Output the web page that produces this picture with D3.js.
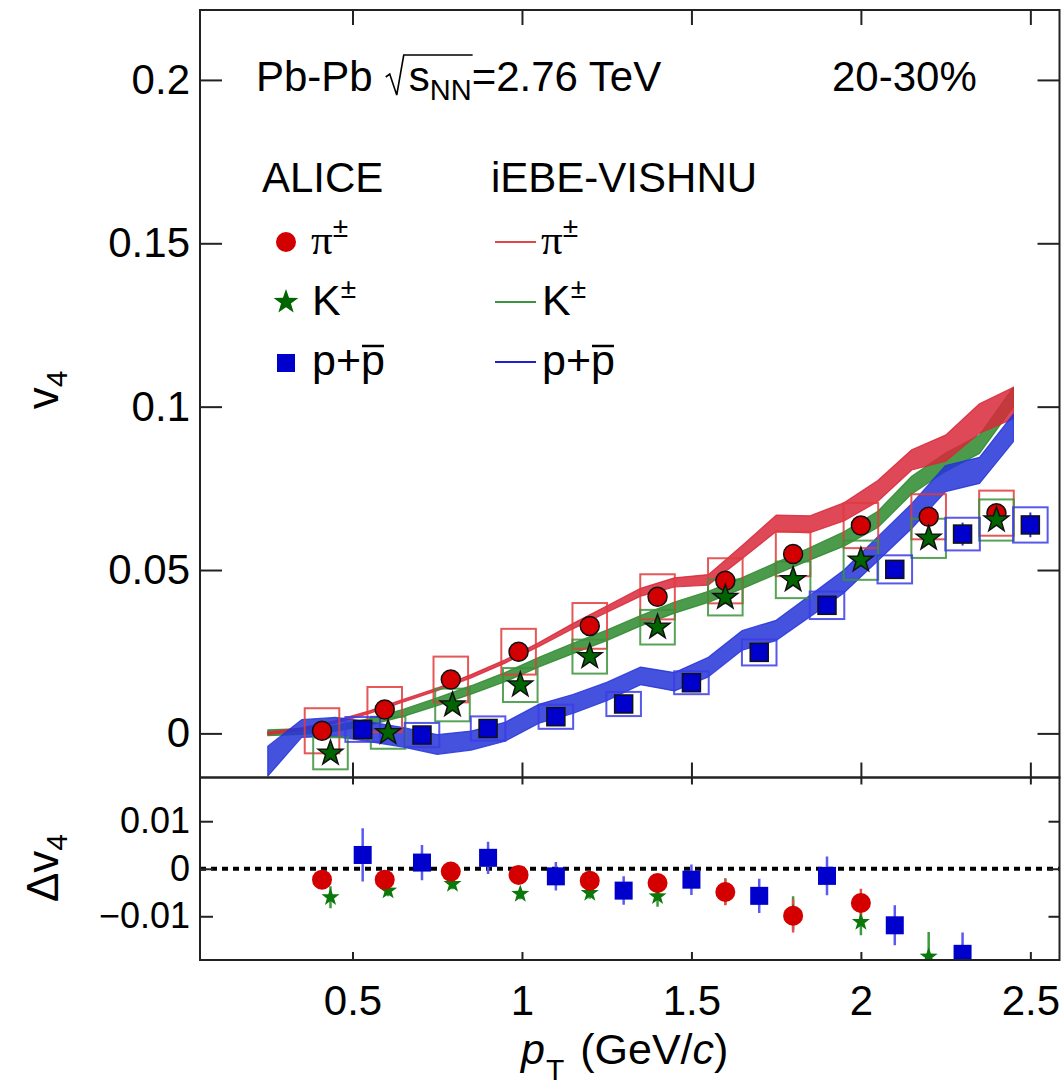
<!DOCTYPE html>
<html>
<head>
<meta charset="utf-8">
<script src="https://d3js.org/d3.v7.min.js"></script>
<style>
  html, body { margin: 0; padding: 0; background: #fff; }
  svg { display: block; font-family: "Liberation Sans", Arial, Helvetica, sans-serif; }
</style>
</head>
<body>
<svg id="chart" width="1061" height="1086"></svg>
<script>
// ---------------- data ----------------
// ALICE measured v4 (Pb-Pb 2.76 TeV, 20-30%)
const pionPt   = [0.41, 0.595, 0.79, 0.99, 1.2, 1.4, 1.6, 1.8, 2.0, 2.2, 2.4];
const pionV4   = [0.0008, 0.0073, 0.0165, 0.0250, 0.0329, 0.0418, 0.0467, 0.0549, 0.0636, 0.0663, 0.0674];
const pionStat = [0.0004, 0.0004, 0.0004, 0.0005, 0.0005, 0.0005, 0.0006, 0.0007, 0.0008, 0.0010, 0.0012];
const pionSys  = [0.0069, 0.0069, 0.0070, 0.0070, 0.0070, 0.0069, 0.0069, 0.0068, 0.0069, 0.0069, 0.0069];

const kaonPt   = [0.435, 0.605, 0.795, 0.995, 1.2, 1.4, 1.6, 1.8, 2.0, 2.2, 2.4];
const kaonV4   = [-0.0061, 0.0002, 0.0087, 0.0148, 0.0235, 0.0325, 0.0416, 0.0470, 0.0530, 0.0597, 0.0653];
const kaonStat = [0.0006, 0.0006, 0.0006, 0.0007, 0.0007, 0.0008, 0.0009, 0.0010, 0.0012, 0.0014, 0.0016];
const kaonSys  = [0.0049, 0.0049, 0.0050, 0.0052, 0.0052, 0.0053, 0.0055, 0.0056, 0.0060, 0.0060, 0.0063];

const protonPt   = [0.53, 0.705, 0.9, 1.1, 1.3, 1.5, 1.7, 1.9, 2.1, 2.3, 2.5];
const protonV4   = [0.0012, -0.0005, 0.0015, 0.0051, 0.0090, 0.0155, 0.0248, 0.0392, 0.0502, 0.0610, 0.0638];
const protonStat = [0.0005, 0.0005, 0.0005, 0.0005, 0.0006, 0.0007, 0.0008, 0.0010, 0.0018, 0.0035, 0.0038];
const protonSys  = [0.0038, 0.0037, 0.0037, 0.0037, 0.0037, 0.0035, 0.0040, 0.0042, 0.0043, 0.0050, 0.0054];

// iEBE-VISHNU hydro calculation (band = centre +- width)
const modelPt    = [0.25, 0.35, 0.45, 0.55, 0.65, 0.75, 0.85, 0.95, 1.05, 1.15, 1.25, 1.35,
                    1.45, 1.55, 1.65, 1.75, 1.85, 1.95, 2.05, 2.15, 2.25, 2.35, 2.45];
const pionBand   = [0.0000, 0.0013, 0.0035, 0.0065, 0.0100, 0.0135, 0.0175, 0.0220, 0.0272, 0.0328, 0.0380, 0.0432,
                    0.0462, 0.0470, 0.0555, 0.0643, 0.0640, 0.0678, 0.0742, 0.0837, 0.0873, 0.0964, 0.1011];
const pionBandW  = [0.0004, 0.0004, 0.0004, 0.0004, 0.0004, 0.0004, 0.0005, 0.0005, 0.0006, 0.0008, 0.0010, 0.0012,
                    0.0014, 0.0016, 0.0020, 0.0025, 0.0026, 0.0028, 0.0032, 0.0031, 0.0040, 0.0045, 0.0048];
const kaonBand   = [0.0002, 0.0006, 0.0016, 0.0035, 0.0063, 0.0097, 0.0133, 0.0172, 0.0218, 0.0260, 0.0300, 0.0345,
                    0.0385, 0.0418, 0.0460, 0.0505, 0.0550, 0.0595, 0.0655, 0.0760, 0.0830, 0.0885, 0.1030];
const kaonBandW  = [0.0009, 0.0009, 0.0009, 0.0010, 0.0011, 0.0012, 0.0013, 0.0014, 0.0015, 0.0016, 0.0016, 0.0016,
                    0.0017, 0.0017, 0.0017, 0.0018, 0.0019, 0.0022, 0.0025, 0.0027, 0.0028, 0.0028, 0.0030];
const protonBand = [-0.0085, 0.0015, 0.0020, 0.0005, -0.0012, -0.0034, -0.0022, 0.0005, 0.0060, 0.0090, 0.0128, 0.0176,
                    0.0158, 0.0203, 0.0285, 0.0315, 0.0390, 0.0465, 0.0565, 0.0665, 0.0780, 0.0805, 0.0935];
const protonBandW= [0.0046, 0.0027, 0.0029, 0.0030, 0.0030, 0.0030, 0.0029, 0.0029, 0.0029, 0.0029, 0.0028, 0.0027,
                    0.0028, 0.0030, 0.0030, 0.0031, 0.0033, 0.0035, 0.0037, 0.0038, 0.0040, 0.0040, 0.0042];

// data - model differences
const dPionPt    = [0.41, 0.595, 0.79, 0.99, 1.2, 1.4, 1.6, 1.8, 2.0];
const dPion      = [-0.0023, -0.0023, -0.0006, -0.0013, -0.0025, -0.0030, -0.0049, -0.0099, -0.0072];
const dPionErr   = [0.0008, 0.0008, 0.0008, 0.0009, 0.0010, 0.0012, 0.0028, 0.0035, 0.0030];
const dKaonPt    = [0.435, 0.605, 0.795, 0.995, 1.2, 1.4, 1.6, 1.8, 2.0, 2.2];
const dKaon      = [-0.0060, -0.0046, -0.0032, -0.0053, -0.0051, -0.0058, -0.0048, -0.0093, -0.0112, -0.0185];
const dKaonErr   = [0.0023, 0.0012, 0.0011, 0.0011, 0.0012, 0.0022, 0.0028, 0.0035, 0.0028, 0.0052];
const dProtonPt  = [0.53, 0.705, 0.9, 1.1, 1.3, 1.5, 1.7, 1.9, 2.1, 2.3];
const dProton    = [0.0029, 0.0013, 0.0023, -0.0016, -0.0046, -0.0023, -0.0057, -0.0015, -0.0119, -0.0179];
const dProtonErr = [0.0056, 0.0037, 0.0034, 0.0030, 0.0030, 0.0032, 0.0036, 0.0041, 0.0042, 0.0045];

// axis ticks
const xTicks     = [0.5, 1, 1.5, 2, 2.5];
const mainYTicks = [0, 0.05, 0.1, 0.15, 0.2];
const lowYTicks  = [-0.01, 0, 0.01];

// ---------------- layout ----------------
const L = 200, R = 1059.5, T = 10, MID = 777.5, B = 960;
const svg = d3.select("#chart");

const x = d3.scaleLinear().domain([0.05, 2.586]).range([L, R]);
const yMain = d3.scaleLinear().domain([-0.0135, 0.2214]).range([MID, T]);
const yLow  = d3.scaleLinear().domain([-0.0192, 0.0192]).range([B, MID]);

const defs = svg.append("defs");
defs.append("clipPath").attr("id", "clipMain")
  .append("rect").attr("x", L).attr("y", T).attr("width", R - L).attr("height", MID - T);
defs.append("clipPath").attr("id", "clipLow")
  .append("rect").attr("x", L).attr("y", MID).attr("width", R - L).attr("height", B - MID);

function starPath(Ro) {
  const Ri = Ro * 0.40;
  let p = "";
  for (let i = 0; i < 10; i++) {
    const a = -Math.PI / 2 + i * Math.PI / 5;
    const r = i % 2 ? Ri : Ro;
    p += (i ? "L" : "M") + (r * Math.cos(a)).toFixed(2) + "," + (r * Math.sin(a)).toFixed(2);
  }
  return p + "Z";
}
const zip = (...arrs) => arrs[0].map((_, i) => arrs.map(a => a[i]));

// ---------------- main panel ----------------
const gMain = svg.append("g").attr("clip-path", "url(#clipMain)");

const bands = [
  { c: kaonBand,   w: kaonBandW,   col: "#2d8a2d" },
  { c: pionBand,   w: pionBandW,   col: "#d8283a" },
  { c: protonBand, w: protonBandW, col: "#2434d8" }
];
bands.forEach(b => {
  const pts = zip(modelPt, b.c, b.w);
  gMain.append("path")
    .datum(pts)
    .attr("d", d3.area().x(d => x(d[0])).y0(d => yMain(d[1] - d[2])).y1(d => yMain(d[1] + d[2])))
    .attr("fill", b.col).attr("fill-opacity", 0.85)
    .attr("stroke", b.col).attr("stroke-opacity", 0.85).attr("stroke-width", 1.2)
    .attr("stroke-linejoin", "round");
});

// systematic boxes
const sysSets = [
  { pt: pionPt,   v: pionV4,   s: pionSys,   col: "#e23b3b" },
  { pt: kaonPt,   v: kaonV4,   s: kaonSys,   col: "#3a933a" },
  { pt: protonPt, v: protonV4, s: protonSys, col: "#3b3be8" }
];
sysSets.forEach(set => {
  gMain.append("g").selectAll("rect").data(zip(set.pt, set.v, set.s)).join("rect")
    .attr("x", d => x(d[0] - 0.051)).attr("width", d => x(d[0] + 0.051) - x(d[0] - 0.051))
    .attr("y", d => yMain(d[1] + d[2])).attr("height", d => yMain(d[1] - d[2]) - yMain(d[1] + d[2]))
    .attr("fill", "none").attr("stroke", set.col).attr("stroke-width", 2).attr("stroke-opacity", 0.85);
});

// statistical errors
[{ pt: pionPt, v: pionV4, e: pionStat, col: "#d00000" },
 { pt: kaonPt, v: kaonV4, e: kaonStat, col: "#006400" },
 { pt: protonPt, v: protonV4, e: protonStat, col: "#2a2ae0" }].forEach(set => {
  gMain.append("g").selectAll("line").data(zip(set.pt, set.v, set.e)).join("line")
    .attr("x1", d => x(d[0])).attr("x2", d => x(d[0]))
    .attr("y1", d => yMain(d[1] + d[2])).attr("y2", d => yMain(d[1] - d[2]))
    .attr("stroke", set.col).attr("stroke-width", 2);
});

// markers
gMain.append("g").selectAll("circle").data(zip(pionPt, pionV4)).join("circle")
  .attr("cx", d => x(d[0])).attr("cy", d => yMain(d[1])).attr("r", 9.5)
  .attr("fill", "#d20000").attr("stroke", "#111").attr("stroke-width", 1.5);
gMain.append("g").selectAll("path").data(zip(kaonPt, kaonV4)).join("path")
  .attr("d", starPath(13))
  .attr("transform", d => `translate(${x(d[0])},${yMain(d[1])})`)
  .attr("fill", "#006400").attr("stroke", "#111").attr("stroke-width", 1.5).attr("stroke-linejoin", "miter");
gMain.append("g").selectAll("rect").data(zip(protonPt, protonV4)).join("rect")
  .attr("x", d => x(d[0]) - 9).attr("y", d => yMain(d[1]) - 9).attr("width", 18).attr("height", 18)
  .attr("fill", "#0000cc").attr("stroke", "#111").attr("stroke-width", 1.5);

// ---------------- lower panel ----------------
const gLow = svg.append("g").attr("clip-path", "url(#clipLow)");
gLow.append("line")
  .attr("x1", L).attr("x2", R).attr("y1", yLow(0)).attr("y2", yLow(0))
  .attr("stroke", "#000").attr("stroke-width", 4).attr("stroke-dasharray", "6,5");

[{ pt: dKaonPt, v: dKaon, e: dKaonErr, col: "#3c9c3c" },
 { pt: dPionPt, v: dPion, e: dPionErr, col: "#e05050" },
 { pt: dProtonPt, v: dProton, e: dProtonErr, col: "#5a5af0" }].forEach(set => {
  gLow.append("g").selectAll("line").data(zip(set.pt, set.v, set.e)).join("line")
    .attr("x1", d => x(d[0])).attr("x2", d => x(d[0]))
    .attr("y1", d => yLow(d[1] + d[2])).attr("y2", d => yLow(d[1] - d[2]))
    .attr("stroke", set.col).attr("stroke-width", 2.5);
});
gLow.append("g").selectAll("path").data(zip(dKaonPt, dKaon)).join("path")
  .attr("d", starPath(9.5))
  .attr("transform", d => `translate(${x(d[0])},${yLow(d[1])})`)
  .attr("fill", "#0a780a");
gLow.append("g").selectAll("circle").data(zip(dPionPt, dPion)).join("circle")
  .attr("cx", d => x(d[0])).attr("cy", d => yLow(d[1])).attr("r", 10)
  .attr("fill", "#d40000");
gLow.append("g").selectAll("rect").data(zip(dProtonPt, dProton)).join("rect")
  .attr("x", d => x(d[0]) - 9).attr("y", d => yLow(d[1]) - 9).attr("width", 18).attr("height", 18)
  .attr("fill", "#0000cc");

// ---------------- frames and axes ----------------
const frame = svg.append("g").attr("fill", "none").attr("stroke", "#222").attr("stroke-width", 2);
frame.append("rect").attr("x", L).attr("y", T).attr("width", R - L).attr("height", MID - T);
frame.append("rect").attr("x", L).attr("y", MID).attr("width", R - L).attr("height", B - MID);

function styleAxis(g, size) {
  g.select(".domain").remove();
  g.selectAll(".tick line").attr("stroke", "#222").attr("stroke-width", 2);
  g.selectAll(".tick text").attr("fill", "#000").style("font-size", size + "px")
    .style("font-family", "'Liberation Sans', Arial, Helvetica, sans-serif");
}
const fmtMain = d => d === 0 ? "0" : String(+d.toFixed(3));
const fmtLow = d => d === 0 ? "0" : (d < 0 ? "\u2212" : "") + String(+Math.abs(d).toFixed(3));

// main y
svg.append("g").attr("transform", `translate(${L},0)`)
  .call(d3.axisLeft(yMain).tickValues(mainYTicks).tickSize(-22).tickPadding(10).tickFormat(fmtMain))
  .call(g => styleAxis(g, 42));
svg.append("g").attr("transform", `translate(${R},0)`)
  .call(d3.axisRight(yMain).tickValues(mainYTicks).tickSize(-22).tickFormat(""))
  .call(g => styleAxis(g, 0));
svg.append("g").attr("transform", `translate(0,${MID})`)
  .call(d3.axisTop(x).tickValues(xTicks).tickSize(15).tickFormat(""))
  .call(g => styleAxis(g, 0));
svg.append("g").attr("transform", `translate(0,${T})`)
  .call(d3.axisBottom(x).tickValues(xTicks).tickSize(15).tickFormat(""))
  .call(g => styleAxis(g, 0));

// lower y
svg.append("g").attr("transform", `translate(${L},0)`)
  .call(d3.axisLeft(yLow).tickValues(lowYTicks).tickSize(-13).tickPadding(10).tickFormat(fmtLow))
  .call(g => styleAxis(g, 36));
svg.append("g").attr("transform", `translate(${R},0)`)
  .call(d3.axisRight(yLow).tickValues(lowYTicks).tickSize(-11).tickFormat(""))
  .call(g => styleAxis(g, 0));
svg.append("g").attr("transform", `translate(0,${B})`)
  .call(d3.axisBottom(x).tickValues(xTicks).tickSize(-8).tickPadding(25).tickFormat(d => String(d)))
  .call(g => styleAxis(g, 42));
svg.append("g").attr("transform", `translate(0,${MID})`)
  .call(d3.axisBottom(x).tickValues(xTicks).tickSize(7).tickFormat(""))
  .call(g => styleAxis(g, 0));

// axis titles
const xt = svg.append("text").attr("x", 521).attr("y", 1064)
  .style("font-size", "43px").attr("fill", "#000");
xt.append("tspan").style("font-style", "italic").text("p");
xt.append("tspan").attr("dy", 16).attr("dx", 1).style("font-size", "30px").text("T");
xt.append("tspan").attr("dy", -16).attr("dx", 16).text("(GeV/");
xt.append("tspan").style("font-style", "italic").text("c");
xt.append("tspan").text(")");

const yt = svg.append("text").attr("transform", "translate(58,390) rotate(-90)")
  .attr("text-anchor", "middle").style("font-size", "44px").attr("fill", "#000");
yt.append("tspan").text("v");
yt.append("tspan").attr("dy", 9).style("font-size", "30px").text("4");

const dyt = svg.append("text").attr("transform", "translate(58,868) rotate(-90)")
  .attr("text-anchor", "middle").style("font-size", "44px").attr("fill", "#000");
dyt.append("tspan").text("\u0394v");
dyt.append("tspan").attr("dy", 9).style("font-size", "30px").text("4");

// ---------------- labels ----------------
const title = svg.append("text").attr("x", 256).attr("y", 91).style("font-size", "42px").attr("fill", "#000");
title.append("tspan").text("Pb-Pb");
title.append("tspan").attr("dx", 36).text("s");
title.append("tspan").attr("dy", 9).style("font-size", "29px").text("NN");
title.append("tspan").attr("dy", -9).text("=2.76 TeV");
{
  const n = title.node();
  const sx = n.getStartPositionOfChar(5).x;
  const ne = n.getEndPositionOfChar(7).x;
  const yb = 91;
  svg.append("path")
    .attr("d", `M${sx - 23},${yb - 14} L${sx - 19},${yb - 17} L${sx - 12},${yb + 4} L${sx - 5},${yb - 36} L${ne + 1},${yb - 36}`)
    .attr("fill", "none").attr("stroke", "#000").attr("stroke-width", 1.6);
}
svg.append("text").attr("x", 832).attr("y", 91).style("font-size", "42px").attr("fill", "#000").text("20-30%");

// legend
svg.append("text").attr("x", 262).attr("y", 192).style("font-size", "42px").attr("fill", "#000").text("ALICE");
svg.append("text").attr("x", 491).attr("y", 192).style("font-size", "42px").attr("fill", "#000").text("iEBE-VISHNU");

const rows = [254, 315, 375];
const legendMarks = svg.append("g");
legendMarks.append("circle").attr("cx", 286).attr("cy", 242).attr("r", 10).attr("fill", "#d20000");
legendMarks.append("path").attr("d", starPath(13)).attr("transform", "translate(286,302)").attr("fill", "#006400");
legendMarks.append("rect").attr("x", 277).attr("y", 354).attr("width", 18).attr("height", 18).attr("fill", "#0000cc");

[["#e04848", 242], ["#3a963a", 302], ["#2020d0", 362]].forEach(([c, yy]) => {
  svg.append("line").attr("x1", 495).attr("x2", 536).attr("y1", yy).attr("y2", yy)
    .attr("stroke", c).attr("stroke-width", 2);
});

function particleLabel(x0, row, kind) {
  const t = svg.append("text").attr("x", x0).attr("y", rows[row]).style("font-size", "43px").attr("fill", "#000");
  if (kind === "pi") {
    t.append("tspan").style("font-family", "'Liberation Serif', 'DejaVu Serif', serif").text("\u03c0");
    t.append("tspan").attr("dy", -17).style("font-size", "28px").text("\u00b1");
  } else if (kind === "K") {
    t.append("tspan").text("K");
    t.append("tspan").attr("dy", -17).style("font-size", "28px").text("\u00b1");
  } else {
    t.text("p+p");
    const n = t.node();
    const a = n.getStartPositionOfChar(2).x, b = n.getEndPositionOfChar(2).x;
    svg.append("line").attr("x1", a + 1).attr("x2", b - 1)
      .attr("y1", rows[row] - 29).attr("y2", rows[row] - 29)
      .attr("stroke", "#000").attr("stroke-width", 2.5);
  }
}
particleLabel(311, 0, "pi");
particleLabel(312, 1, "K");
particleLabel(312, 2, "p");
particleLabel(541, 0, "pi");
particleLabel(542, 1, "K");
particleLabel(542, 2, "p");
</script>
</body>
</html>
